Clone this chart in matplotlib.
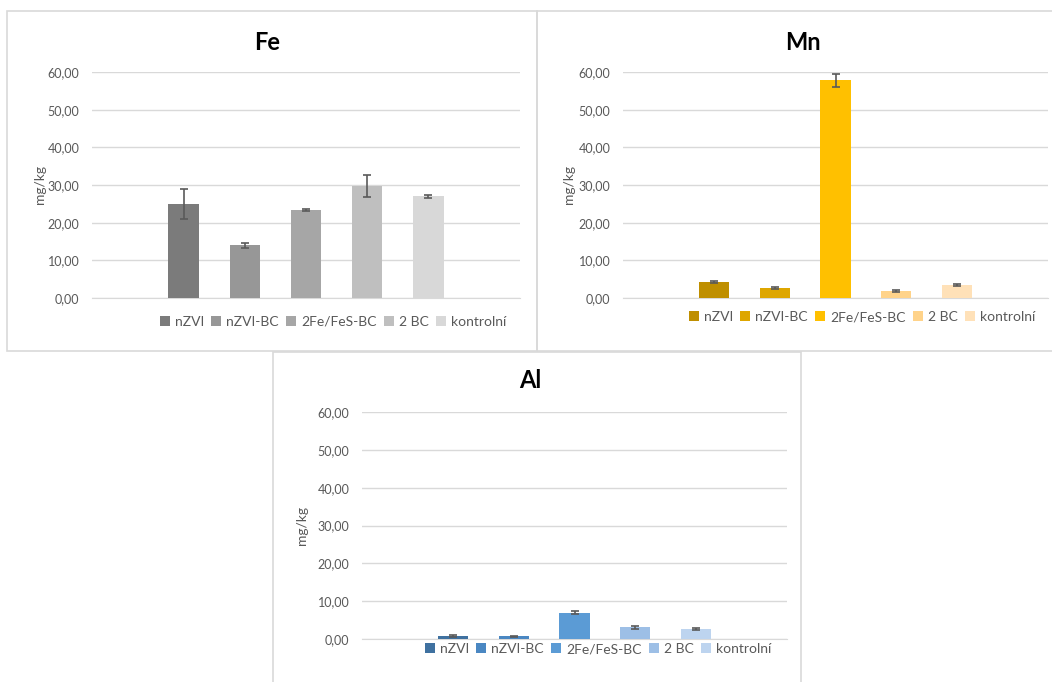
import matplotlib
matplotlib.use("Agg")
import matplotlib.pyplot as plt
from matplotlib.patches import Patch, Rectangle
from matplotlib.ticker import FuncFormatter

plt.rcParams['font.family'] = ['Lato', 'DejaVu Sans']

treatments = ['nZVI', 'nZVI-BC', '2Fe/FeS-BC', '2 BC', 'kontrolní']
ticks = [0, 10, 20, 30, 40, 50, 60]

fe_values = [25.0, 14.0, 23.4, 29.7, 27.0]
fe_errors = [4.0, 0.7, 0.2, 2.9, 0.4]
mn_values = [4.3, 2.7, 57.8, 1.8, 3.4]
mn_errors = [0.2, 0.2, 1.75, 0.3, 0.2]
al_values = [0.8, 0.7, 7.0, 3.1, 2.6]
al_errors = [0.2, 0.15, 0.3, 0.4, 0.2]

fe_colors = ['#7b7b7b', '#979797', '#a6a6a6', '#bfbfbf', '#d8d8d8']
mn_colors = ['#bf8f00', '#dea600', '#ffc000', '#ffd38a', '#ffe1b8']
al_colors = ['#3f71a0', '#4a87c2', '#5b9bd5', '#9dbfe6', '#bdd4ef']

W, H = 1052, 682
TEXT = '#595959'
GRID = '#d9d9d9'

fig = plt.figure(figsize=(W / 100, H / 100), dpi=100)


def px_box(x0, y0, x1, y1):
    # pixel box (top-left origin) -> figure fraction rect
    return [x0 / W, 1 - y1 / H, (x1 - x0) / W, (y1 - y0) / H]


def frame(x0, y0, x1, y1):
    fig.patches.append(Rectangle((x0 / W, 1 - y1 / H), (x1 - x0) / W, (y1 - y0) / H,
                                 transform=fig.transFigure, fill=False,
                                 edgecolor='#d9d9d9', linewidth=1.2))


def panel(box, values, errors, colors, title, title_xy, ylabel_x, legend_xy):
    ax = fig.add_axes(px_box(*box))
    x = range(len(values))
    ax.bar(x, values, width=0.5, color=colors, zorder=3)
    ax.errorbar(x, values, yerr=errors, fmt='none', ecolor='#5a5a5a',
                elinewidth=1.2, capsize=3, capthick=1.2, zorder=4)
    ax.set_xlim(-1.5, 5.5)
    ax.set_ylim(0, 60)
    ax.set_yticks(ticks)
    ax.yaxis.set_major_formatter(FuncFormatter(lambda v, p: f'{v:.2f}'.replace('.', ',')))
    ax.set_xticks([])
    ax.grid(axis='y', color=GRID, linewidth=1, zorder=0)
    for s in ['top', 'right', 'left']:
        ax.spines[s].set_visible(False)
    ax.spines['bottom'].set_color(GRID)
    ax.tick_params(axis='y', length=0, pad=9, labelsize=9, labelcolor=TEXT)

    fig.text(title_xy[0] / W, 1 - title_xy[1] / H, title, ha='center', va='center',
             fontsize=17, fontweight='bold', color='black')
    fig.text(ylabel_x / W, 1 - (box[1] + box[3]) / 2 / H, 'mg/kg', rotation=90,
             ha='center', va='center', fontsize=10, color=TEXT)

    handles = [Patch(facecolor=c, edgecolor='none') for c in colors]
    fig.legend(handles, treatments, ncol=5, loc='center',
               bbox_to_anchor=(legend_xy[0] / W, 1 - legend_xy[1] / H),
               frameon=False, fontsize=10, labelcolor=TEXT,
               handlelength=0.7, handleheight=0.7, handletextpad=0.35,
               columnspacing=0.55, borderaxespad=0)
    return ax


frame(7, 11, 537, 351)
frame(537, 11, 1060, 351)
frame(273, 352, 801, 690)

panel((92, 72, 520, 298), fe_values, fe_errors, fe_colors, 'Fe', (267, 42), 40, (333, 322))
panel((623, 72, 1048, 298), mn_values, mn_errors, mn_colors, 'Mn', (803, 42), 569, (862, 317))
panel((362, 412, 787, 639), al_values, al_errors, al_colors, 'Al', (530, 381), 302, (598, 649))

fig.savefig('out.png', dpi=100)
